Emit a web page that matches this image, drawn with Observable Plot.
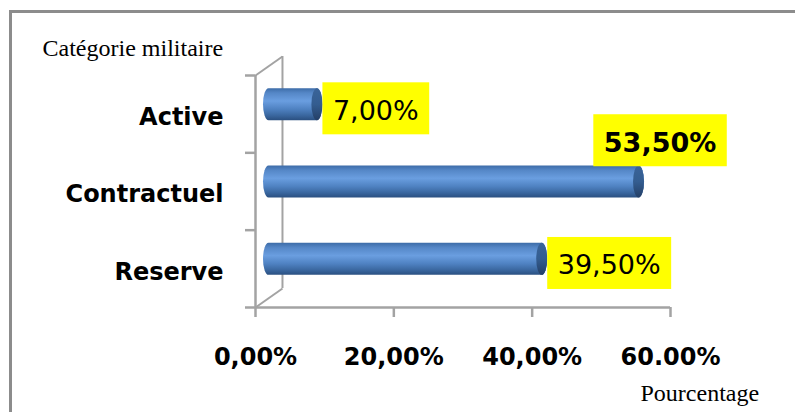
<!DOCTYPE html>
<html>
<head>
<meta charset="utf-8">
<script src="https://cdn.jsdelivr.net/npm/d3@7"></script>
<script src="https://cdn.jsdelivr.net/npm/@observablehq/plot@0.6"></script>
<style>
  html, body { margin: 0; padding: 0; background: #fff; }
  #wrap { position: relative; width: 795px; height: 412px; overflow: hidden; }
  #border { position: absolute; left: 9px; top: 10px; width: 786px; height: 402px;
            border-top: 3px solid #8c8c8c; border-left: 3px solid #8c8c8c; box-sizing: border-box; pointer-events: none; }
</style>
</head>
<body>
<div id="wrap"><div id="chart"></div><div id="border"></div></div>
<script>
// ---- data ----
const categories = ["Active", "Contractuel", "Reserve"];
const values = [7.0, 53.5, 39.5];
const valueLabels = ["7,00%", "53,50%", "39,50%"];
const xTicks = [0, 20, 40, 60];
const xTickLabels = ["0,00%", "20,00%", "40,00%", "60.00%"];
const yTitle = "Catégorie militaire";
const xTitle = "Pourcentage";

// ---- table built from the arrays ----
const data = categories.map((c, i) => ({
  cat: c, pos: categories.length - 0.5 - i, value: values[i], label: valueLabels[i]
}));

const gray = "#a3a3a3";
const depthX = 3.9, depthY = 0.246;   // 3D wall depth (data units)
const half = 0.207;                   // half bar thickness (band units)
const besideLabels = data.filter(d => d.cat !== "Contractuel");
const aboveLabels = data.filter(d => d.cat === "Contractuel");

const svg = Plot.plot({
  width: 795, height: 412,
  marginLeft: 255, marginRight: 125, marginTop: 75, marginBottom: 105,
  x: {domain: [0, 60], axis: null},
  y: {domain: [0, 3], axis: null},
  style: {background: "white", overflow: "visible"},
  marks: [
    // 3D wall & floor
    Plot.ruleX([depthX], {y1: depthY, y2: 3 + depthY, stroke: gray, strokeWidth: 2}),
    Plot.link([0, 3], {x1: 0, y1: d => d, x2: depthX, y2: d => d + depthY, stroke: gray, strokeWidth: 2}),
    Plot.ruleX([0], {y1: 0, y2: 3, stroke: gray, strokeWidth: 2.5}),
    Plot.ruleY([0], {x1: 0, x2: 60, stroke: gray, strokeWidth: 2.5}),
    // y boundary ticks
    Plot.axisY({ticks: [0, 1, 2, 3], tickSize: 10, tickFormat: () => "", stroke: gray, strokeWidth: 2.5, label: null}),
    // y category labels
    Plot.axisY({ticks: data.map(d => d.pos), tickSize: 0, tickPadding: 32,
      tickFormat: p => categories[Math.round(categories.length - 0.5 - p)],
      fontSize: 24, fontWeight: "bold", fontFamily: "DejaVu Sans", dy: 3, label: null}),
    // x axis
    Plot.axisX({ticks: xTicks, tickSize: 10, tickPadding: 30,
      tickFormat: d => xTickLabels[xTicks.indexOf(d)],
      stroke: gray, strokeWidth: 2.5, fontSize: 24, fontWeight: "bold", fontFamily: "DejaVu Sans", label: null}),
    // cylinders: body then end cap
    Plot.rect(data, {x1: 0, x2: "value", y1: d => d.pos - half, y2: d => d.pos + half,
      insetLeft: -5.5, insetRight: -5.5, rx: 5.5, ry: 16, dx: 13.5, dy: -9.5, fill: "url(#cyl)"}),
    Plot.rect(data, {x1: "value", x2: "value", y1: d => d.pos - half, y2: d => d.pos + half,
      insetLeft: -5.5, insetRight: -5.5, rx: 5.5, ry: 16, dx: 13.5, dy: -9.5, fill: "url(#cap)"}),
    // value labels
    Plot.text(besideLabels, {x: "value", y: "pos", text: "label", textAnchor: "start", dx: 29, dy: -3,
      fontSize: 27, fontFamily: "DejaVu Sans", fill: "black"}),
    Plot.text(aboveLabels, {x: "value", y: "pos", text: "label", textAnchor: "middle", dx: 34.5, dy: -48.4,
      fontSize: 27, fontWeight: "bold", fontFamily: "DejaVu Sans", fill: "black"}),
    // titles
    Plot.text([yTitle], {frameAnchor: "top-left", textAnchor: "start", lineAnchor: "bottom", dx: -213, dy: -20,
      fontSize: 24, fontFamily: "Liberation Serif", fill: "black"}),
    Plot.text([xTitle], {frameAnchor: "bottom-right", textAnchor: "start", lineAnchor: "bottom", dx: -30, dy: 93,
      fontSize: 24, fontFamily: "Liberation Serif", fill: "black"})
  ]
});

document.getElementById("chart").append(svg);

d3.select(svg).insert("defs", ":first-child").html(`
  <linearGradient id="cyl" x1="0" y1="0" x2="0" y2="1">
    <stop offset="0" stop-color="#3d6ca8"/>
    <stop offset="0.15" stop-color="#5587c7"/>
    <stop offset="0.4" stop-color="#6a9ee0"/>
    <stop offset="0.65" stop-color="#4f82c2"/>
    <stop offset="0.85" stop-color="#3a679f"/>
    <stop offset="1" stop-color="#2a4f80"/>
  </linearGradient>
  <linearGradient id="cap" x1="0" y1="0" x2="0" y2="1">
    <stop offset="0" stop-color="#3a6499"/>
    <stop offset="0.5" stop-color="#345d90"/>
    <stop offset="1" stop-color="#243f66"/>
  </linearGradient>`);

// yellow label boxes behind the value texts
d3.select(svg).selectAll("text")
  .filter(function() { return valueLabels.includes(this.textContent); })
  .each(function() {
    const b = this.getBBox();
    const r = document.createElementNS("http://www.w3.org/2000/svg", "rect");
    const t = this.getAttribute("transform");
    if (t) r.setAttribute("transform", t);
    r.setAttribute("x", b.x - 10.5);
    r.setAttribute("y", b.y + b.height / 2 - 28);
    r.setAttribute("width", b.width + 21);
    r.setAttribute("height", 52);
    r.setAttribute("fill", "#ffff00");
    r.setAttribute("stroke", "none");
    this.parentNode.insertBefore(r, this);
  });
</script>
</body>
</html>
